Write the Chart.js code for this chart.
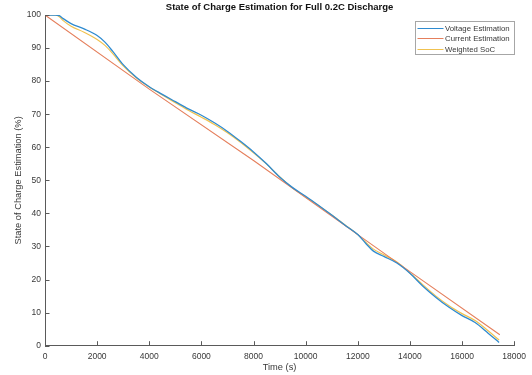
<!DOCTYPE html>
<html>
<head>
<meta charset="utf-8">
<script src="https://cdn.jsdelivr.net/npm/chart.js@4.4.1/dist/chart.umd.min.js"></script>
<style>
  html, body { margin: 0; padding: 0; background: #fff; }
  #wrap { width: 532px; height: 375px; }
</style>
</head>
<body>
<div id="wrap"><canvas id="soc" width="532" height="375"></canvas></div>
<script>
// Sample times (s) and SoC estimates (%) for the full 0.2C discharge
const voltageTime = [0, 400, 550, 700, 1000, 1500, 2000, 2300, 2600, 3000, 3500, 4000, 4500, 5000, 5500, 6000, 6500, 7000, 7500, 8000, 8500, 9000, 9500, 10000, 10500, 11000, 11500, 12000, 12300, 12600, 13000, 13500, 14000, 14500, 15000, 15500, 16000, 16500, 17000, 17420];
const voltageSoC  = [100, 100, 99.8, 98.9, 97.4, 95.8, 93.8, 91.8, 89.0, 85.0, 81.2, 78.3, 76.0, 73.8, 71.6, 69.7, 67.4, 64.8, 61.8, 58.6, 55.0, 51.0, 47.8, 45.2, 42.4, 39.5, 36.5, 33.6, 31.0, 28.6, 27.0, 25.0, 21.9, 18.0, 14.6, 11.6, 9.1, 7.0, 3.8, 1.0];

const currentTime = [0, 4000, 8000, 12000, 14000, 17450];
const currentSoC  = [100, 77.6, 56.0, 33.6, 22.4, 3.3];

const weightedTime = [0, 400, 550, 700, 1000, 1500, 2000, 2300, 2600, 3000, 3500, 4000, 4500, 5000, 5500, 6000, 6500, 7000, 7500, 8000, 8500, 9000, 9500, 10000, 10500, 11000, 11500, 12000, 12300, 12600, 13000, 13500, 14000, 14500, 15000, 15500, 16000, 16500, 17000, 17420];
const weightedSoC  = [100, 100, 99.5, 98.3, 96.6, 94.8, 92.6, 90.8, 88.3, 84.6, 81.0, 78.2, 75.8, 73.5, 71.2, 69.1, 66.9, 64.4, 61.5, 58.3, 54.9, 51.1, 47.7, 45.0, 42.3, 39.5, 36.6, 33.6, 31.3, 29.2, 27.5, 25.3, 22.0, 18.4, 15.0, 12.1, 9.7, 7.6, 4.5, 1.7];

const xTicks = [0, 2000, 4000, 6000, 8000, 10000, 12000, 14000, 16000, 18000];
const yTicks = [0, 10, 20, 30, 40, 50, 60, 70, 80, 90, 100];

const seriesNames = ['Voltage Estimation', 'Current Estimation', 'Weighted SoC'];
const chartTitle = 'State of Charge Estimation for Full 0.2C Discharge';

const pairs = (xs, ys) => xs.map((x, i) => ({ x: x, y: ys[i] }));

const FONT = '"Liberation Sans", Arial, Helvetica, sans-serif';
const AXIS_COLOR = '#5a5a5a';
const TEXT_COLOR = '#383838';
const BLUE = '#2f8bd0';
const ORANGE = '#e57f5c';
const YELLOW = '#f0c250';

// Title centred over the plotting area
const titlePlugin = {
  id: 'plotTitle',
  afterDraw(chart) {
    const { ctx, chartArea } = chart;
    ctx.save();
    ctx.font = 'bold 9.5px ' + FONT;
    ctx.fillStyle = '#111111';
    ctx.textAlign = 'center';
    ctx.textBaseline = 'middle';
    ctx.fillText(chartTitle, (chartArea.left + chartArea.right) / 2, 7);
    ctx.restore();
  }
};

// Short tick marks pointing into the plot area
const innerTicks = {
  id: 'innerTicks',
  afterDatasetsDraw(chart) {
    const { ctx, scales } = chart;
    const xs = scales.x, ys = scales.y;
    const len = 4.5;
    ctx.save();
    ctx.strokeStyle = AXIS_COLOR;
    ctx.lineWidth = 1;
    ctx.beginPath();
    xTicks.forEach(v => {
      const px = Math.round(xs.getPixelForValue(v)) + 0.5;
      const py = ys.getPixelForValue(0);
      ctx.moveTo(px, py);
      ctx.lineTo(px, py - len);
    });
    yTicks.forEach(v => {
      const py = Math.round(ys.getPixelForValue(v)) + 0.5;
      const px = xs.getPixelForValue(0);
      ctx.moveTo(px, py);
      ctx.lineTo(px + len, py);
    });
    ctx.stroke();
    ctx.restore();
  }
};

// Boxed legend in the upper right corner
const boxLegend = {
  id: 'boxLegend',
  afterDraw(chart) {
    const { ctx } = chart;
    const left = 415.5, top = 21.5, w = 99, h = 33;
    ctx.save();
    ctx.fillStyle = '#ffffff';
    ctx.fillRect(left, top, w, h);
    ctx.strokeStyle = '#a6a6a6';
    ctx.lineWidth = 1;
    ctx.strokeRect(left, top, w, h);
    ctx.font = '7.8px ' + FONT;
    ctx.textBaseline = 'middle';
    ctx.textAlign = 'left';
    chart.data.datasets.forEach((ds, i) => {
      const y = Math.round(top + 6 + i * 10.8) + 0.5;
      ctx.strokeStyle = ds.borderColor;
      ctx.lineWidth = 1;
      ctx.beginPath();
      ctx.moveTo(left + 2, y);
      ctx.lineTo(left + 28, y);
      ctx.stroke();
      ctx.fillStyle = TEXT_COLOR;
      ctx.fillText(ds.label, left + 29.5, y);
    });
    ctx.restore();
  }
};

new Chart(document.getElementById('soc'), {
  type: 'line',
  data: {
    datasets: [
      { label: seriesNames[0], data: pairs(voltageTime, voltageSoC), borderColor: BLUE, borderWidth: 1.3, pointRadius: 0, cubicInterpolationMode: 'monotone', fill: false },
      { label: seriesNames[1], data: pairs(currentTime, currentSoC), borderColor: ORANGE, borderWidth: 1.1, pointRadius: 0, tension: 0, fill: false },
      { label: seriesNames[2], data: pairs(weightedTime, weightedSoC), borderColor: YELLOW, borderWidth: 1.2, pointRadius: 0, cubicInterpolationMode: 'monotone', fill: false }
    ]
  },
  options: {
    responsive: false,
    animation: false,
    layout: { padding: { left: 0, right: 13, top: 15, bottom: 0 } },
    plugins: { legend: { display: false }, title: { display: false }, tooltip: { enabled: false } },
    scales: {
      x: {
        type: 'linear',
        min: 0, max: 18000,
        afterBuildTicks: s => { s.ticks = xTicks.map(v => ({ value: v })); },
        afterFit: s => { s.height = 29.3; },
        grid: { display: false, drawTicks: false },
        border: { display: true, color: AXIS_COLOR, width: 1 },
        ticks: { color: TEXT_COLOR, font: { family: FONT, size: 8.5 }, padding: 6, maxRotation: 0, autoSkip: false, callback: v => String(v) },
        title: { display: true, text: 'Time (s)', color: TEXT_COLOR, font: { family: FONT, size: 9.3 }, padding: { top: 0, bottom: 1.5 } }
      },
      y: {
        type: 'linear',
        min: 0, max: 100,
        afterBuildTicks: s => { s.ticks = yTicks.map(v => ({ value: v })); },
        afterFit: s => { s.width = 45; },
        grid: { display: false, drawTicks: false },
        border: { display: true, color: AXIS_COLOR, width: 1 },
        ticks: { color: TEXT_COLOR, font: { family: FONT, size: 8.5 }, padding: 4, autoSkip: false, callback: v => String(v) },
        title: { display: true, text: 'State of Charge Estimation (%)', color: TEXT_COLOR, font: { family: FONT, size: 9.3 }, padding: { top: 12.5, bottom: 0 } }
      }
    }
  },
  plugins: [innerTicks, titlePlugin, boxLegend]
});
</script>
</body>
</html>
